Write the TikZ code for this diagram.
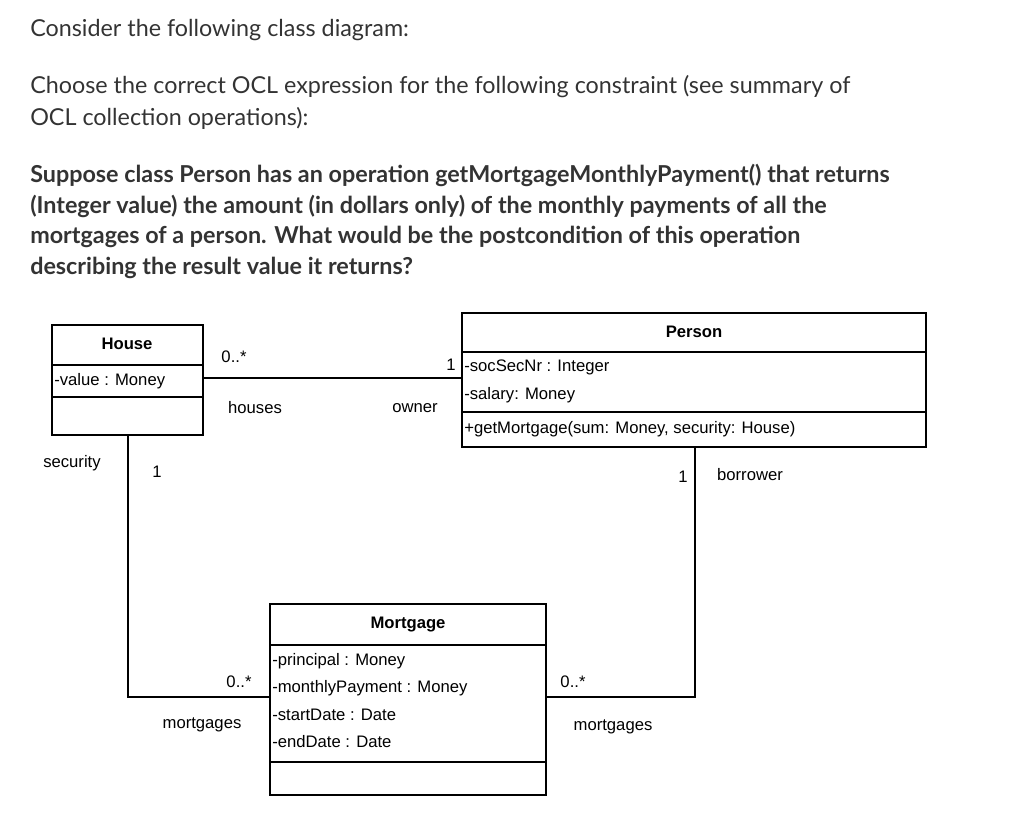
\documentclass[tikz,border=0pt]{standalone}
\usepackage{fontspec}
\setmainfont{Lato}
\newfontfamily\dg{Liberation Sans}
\begin{document}
\begin{tikzpicture}[x=0.75pt,y=-0.75pt,
 q/.style={anchor=west,inner sep=0pt,font=\fontsize{17.5}{20}\selectfont,text=black!80},
 qb/.style={q,font=\fontsize{17.5}{20}\selectfont\bfseries},
 lb/.style={inner sep=0pt,font=\dg\fontsize{12.5}{14}\selectfont},
 attr/.style={lb,anchor=west},
 bx/.style={draw,line width=1pt}]
\useasboundingbox (0,0) rectangle (1024,819);
\node[q] (t1) at (30,30) {Consider the following class diagram:};
\node[q] (t2) at (30,87) {Choose the correct OCL expression for the following constraint (see summary of};
\node[q] (t3) at (30,118) {OCL collection operations):};
\node[qb] (t4) at (30,175) {Suppose class Person has an operation getMortgageMonthlyPayment() that returns};
\node[qb] (t5) at (30,206) {(Integer value) the amount (in dollars only) of the monthly payments of all the};
\node[qb] (t6) at (30,237) {mortgages of a person. What would be the postcondition of this operation};
\node[qb] (t7) at (30,268) {describing the result value it returns?};
% House
\draw[bx] (52,325) rectangle (203,435);
\draw[bx] (52,365)--(203,365) (52,397)--(203,397);
\node[lb,font=\dg\bfseries\fontsize{12.5}{14}\selectfont] (h) at (127,344) {House};
\node[attr] (hv) at (54,381) {-value : Money};
% Person
\draw[bx] (462,313) rectangle (926,447);
\draw[bx] (462,352)--(926,352) (462,412)--(926,412);
\node[lb,font=\dg\bfseries\fontsize{12.5}{14}\selectfont] (p) at (694,332) {Person};
\node[attr] (p1) at (464,367) {-socSecNr : Integer};
\node[attr] (p2) at (464,395) {-salary: Money};
\node[attr] (p3) at (464,429) {+getMortgage(sum: Money, security: House)};
% Mortgage
\draw[bx] (270,604) rectangle (546,795);
\draw[bx] (270,645)--(546,645) (270,762)--(546,762);
\node[lb,font=\dg\bfseries\fontsize{12.5}{14}\selectfont] (m) at (408,625) {Mortgage};
\node[attr] (m1) at (272,661) {-principal : Money};
\node[attr] (m2) at (272,688) {-monthlyPayment : Money};
\node[attr] (m3) at (272,715) {-startDate : Date};
\node[attr] (m4) at (272,742) {-endDate : Date};
% connectors
\coordinate (hp1) at (203,378); \coordinate (hp2) at (462,378);
\draw[line width=1pt] (hp1)--(hp2);
\coordinate (ha) at (128,435); \coordinate (hb) at (128,697); \coordinate (hc) at (270,697);
\draw[line width=1pt] (ha)--(hb)--(hc);
\coordinate (pa) at (695,447); \coordinate (pb) at (695,697); \coordinate (pc) at (546,697);
\draw[line width=1pt] (pa)--(pb)--(pc);
% labels
\node[lb] (l1) at (234,357) {0..*};
\node[lb] (l2) at (255,408) {houses};
\node[lb] (l3) at (451,365) {1};
\node[lb] (l4) at (415,408) {owner};
\node[lb] (l5) at (72,463) {security};
\node[lb] (l6) at (157,472) {1};
\node[lb] (l7) at (683,477) {1};
\node[lb] (l8) at (750,475) {borrower};
\node[lb] (l9) at (239,682) {0..*};
\node[lb] (l10) at (202,725) {mortgages};
\node[lb] (l11) at (573,682) {0..*};
\node[lb] (l12) at (613,727) {mortgages};
\end{tikzpicture}
\end{document}
